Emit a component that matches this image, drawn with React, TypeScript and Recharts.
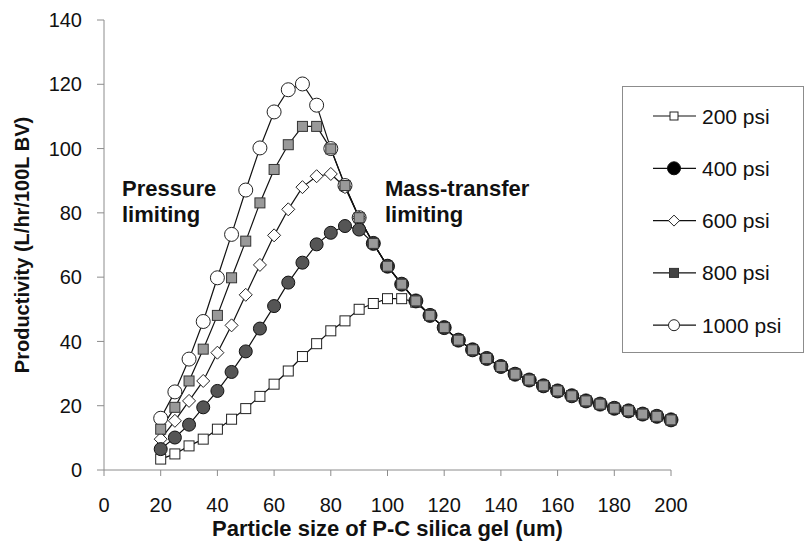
// Productivity vs particle size — five pressure curves, Excel-style black & white

import { type CSSProperties } from 'react'
import { LineChart, Line, XAxis, YAxis, Legend } from 'recharts'

const FONT = '"Liberation Sans", Arial, sans-serif'
const INK = '#111'
const AXIS = '#8c8c8c'

// particle size (um)
const SIZES = [
  20, 25, 30, 35, 40, 45, 50, 55, 60, 65, 70, 75, 80, 85, 90, 95, 100, 105, 110,
  115, 120, 125, 130, 135, 140, 145, 150, 155, 160, 165, 170, 175, 180, 185, 190, 195, 200,
]

// productivity (L/hr/100L BV)
const P200 = [
  3.4, 5.0, 7.5, 9.6, 12.7, 15.8, 19.1, 22.9, 26.7, 30.8, 35.3, 39.3, 43.3, 46.4, 50.0, 51.8, 53.3, 53.3,
  52.2, 48.1, 44.3, 40.4, 37.4, 34.7, 32.2, 29.8, 28.0, 26.2, 24.6, 23.1, 21.5, 20.5, 19.2, 18.4, 17.4, 16.7, 15.6,
]
const P400 = [
  6.5, 10.1, 14.1, 19.5, 24.6, 30.5, 36.9, 44.0, 51.0, 58.3, 64.5, 70.2, 73.8, 75.9, 74.8,
  70.5, 63.4, 57.8, 52.6, 48.1, 44.3, 40.4, 37.4, 34.7, 32.2, 29.8, 28.0, 26.2, 24.6, 23.1, 21.5, 20.5, 19.2, 18.4, 17.4, 16.7, 15.6,
]
const P600 = [
  9.6, 15.3, 21.5, 27.7, 36.5, 45.0, 54.5, 63.8, 73.0, 81.1, 88.0, 91.4, 92.1, 88.0,
  78.5, 70.5, 63.4, 57.8, 52.6, 48.1, 44.3, 40.4, 37.4, 34.7, 32.2, 29.8, 28.0, 26.2, 24.6, 23.1, 21.5, 20.5, 19.2, 18.4, 17.4, 16.7, 15.6,
]
const P800 = [
  12.7, 19.5, 27.7, 37.6, 48.1, 59.8, 71.2, 83.1, 93.5, 101.2, 106.9, 106.9, 99.9,
  88.5, 78.5, 70.5, 63.4, 57.8, 52.6, 48.1, 44.3, 40.4, 37.4, 34.7, 32.2, 29.8, 28.0, 26.2, 24.6, 23.1, 21.5, 20.5, 19.2, 18.4, 17.4, 16.7, 15.6,
]
const P1000 = [
  16.1, 24.3, 34.5, 46.2, 59.8, 73.3, 87.1, 100.2, 111.4, 118.3, 120.1, 113.5, 100.0,
  88.5, 78.5, 70.5, 63.4, 57.8, 52.6, 48.1, 44.3, 40.4, 37.4, 34.7, 32.2, 29.8, 28.0, 26.2, 24.6, 23.1, 21.5, 20.5, 19.2, 18.4, 17.4, 16.7, 15.6,
]

const X_TICKS = [0, 20, 40, 60, 80, 100, 120, 140, 160, 180, 200]
const Y_TICKS = [0, 20, 40, 60, 80, 100, 120, 140]

const data = SIZES.map((x, i) => ({
  x, p200: P200[i], p400: P400[i], p600: P600[i], p800: P800[i], p1000: P1000[i],
}))

type Kind = 'sqOpen' | 'dot' | 'diamond' | 'sqGray' | 'ring'

function marker(kind: Kind, cx: number, cy: number, k: string | number, small = false) {
  switch (kind) {
    case 'sqOpen': {
      const h = small ? 4 : 5
      return <rect key={k} x={cx - h} y={cy - h} width={h * 2} height={h * 2} fill="#fff" stroke="#222" strokeWidth={1} />
    }
    case 'dot':
      return <circle key={k} cx={cx} cy={cy} r={6.5} fill={small ? '#000' : '#555'} stroke="#111" strokeWidth={1} />
    case 'diamond': {
      const h = small ? 5.5 : 6.5
      return <path key={k} d={`M${cx},${cy - h}L${cx + h},${cy}L${cx},${cy + h}L${cx - h},${cy}Z`} fill="#fff" stroke="#222" strokeWidth={1} />
    }
    case 'sqGray': {
      const h = small ? 4.5 : 5
      return <rect key={k} x={cx - h} y={cy - h} width={h * 2} height={h * 2} fill={small ? '#444' : '#999'} stroke="#333" strokeWidth={1} />
    }
    case 'ring':
      return <circle key={k} cx={cx} cy={cy} r={small ? 5.5 : 7} fill="#fff" stroke="#222" strokeWidth={1} />
  }
}

const SERIES: { key: string; name: string; kind: Kind }[] = [
  { key: 'p200', name: '200 psi', kind: 'sqOpen' },
  { key: 'p400', name: '400 psi', kind: 'dot' },
  { key: 'p600', name: '600 psi', kind: 'diamond' },
  { key: 'p800', name: '800 psi', kind: 'sqGray' },
  { key: 'p1000', name: '1000 psi', kind: 'ring' },
]

// draw order so the shared tail shows grey squares over dark circles
const DRAW_ORDER = ['p1000', 'p200', 'p600', 'p400', 'p800']

function LegendBox() {
  return (
    <svg width={182} height={267} style={{ display: 'block' }}>
      {SERIES.map((s, i) => {
        const cy = 29 + i * 52.3
        return (
          <g key={s.key}>
            <line x1={30} x2={73} y1={cy} y2={cy} stroke={INK} strokeWidth={1.2} />
            {marker(s.kind, 51, cy, 'm', true)}
            <text x={79} y={cy} dy="0.36em" fontSize={21} fill={INK} fontFamily={FONT}>{s.name}</text>
          </g>
        )
      })}
    </svg>
  )
}

export default function App() {
  return (
    <div style={st.wrap}>
      <LineChart width={807} height={550} data={data} margin={{ top: 20, right: 136, left: 0, bottom: 0 }}>
        <XAxis dataKey="x" type="number" domain={[0, 200]} ticks={X_TICKS}
          stroke={AXIS} tickSize={6} tickMargin={22}
          tick={{ fontSize: 20, fill: INK, fontFamily: FONT }} height={80}
          label={{ value: 'Particle size of P-C silica gel (um)', position: 'insideBottom', offset: 14,
            style: { fontSize: 22, fontWeight: 700, fill: INK, fontFamily: FONT } }} />
        <YAxis type="number" domain={[0, 140]} ticks={Y_TICKS} width={104}
          stroke={AXIS} tickSize={7} tickMargin={15}
          tick={{ fontSize: 20, fill: INK, fontFamily: FONT }}
          label={{ value: 'Productivity (L/hr/100L BV)', angle: -90, position: 'insideLeft', offset: 22,
            style: { fontSize: 20, fontWeight: 700, fill: INK, fontFamily: FONT, textAnchor: 'middle' } }} />
        <Legend layout="vertical" align="center" verticalAlign="middle"
          wrapperStyle={{ left: 622, top: 86, width: 182, height: 267, border: '1px solid #8c8c8c', boxSizing: 'border-box', background: '#fff' }}
          content={() => <LegendBox />} />
        {DRAW_ORDER.map(key => {
          const s = SERIES.find(v => v.key === key)!
          return (
            <Line key={key} dataKey={key} name={s.name} type="linear" stroke={INK} strokeWidth={1.2}
              dot={(p: any) => marker(s.kind, p.cx, p.cy, `${key}-${p.index}`)}
              activeDot={false} isAnimationActive={false} />
          )
        })}
      </LineChart>
      <div style={{ ...st.note, left: 122, top: 176 }}>Pressure<br />limiting</div>
      <div style={{ ...st.note, left: 385, top: 176 }}>Mass-transfer<br />limiting</div>
    </div>
  )
}

const st: Record<string, CSSProperties> = {
  wrap: { position: 'absolute', left: 0, top: 0, width: 807, height: 550, background: '#fff' },
  note: {
    position: 'absolute', fontFamily: FONT, fontSize: 22, fontWeight: 700,
    lineHeight: '26px', color: INK, whiteSpace: 'nowrap',
  },
}
